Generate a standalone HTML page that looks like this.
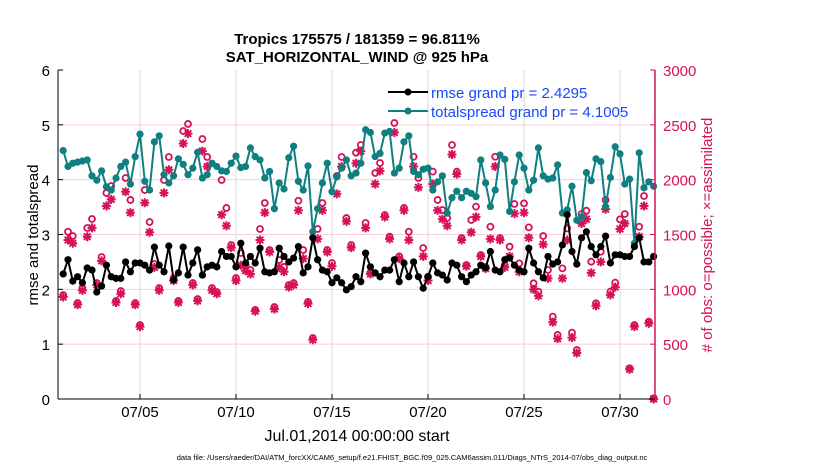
<!DOCTYPE html>
<html><head><meta charset="utf-8"><style>
html,body{margin:0;padding:0;background:#fff;}
svg{display:block;font-family:"Liberation Sans",Arial,sans-serif;}
</style></head><body>
<svg id="chart" width="830" height="470" viewBox="0 0 830 470">
<text x="357" y="44" text-anchor="middle" font-size="15" font-weight="bold">Tropics 175575 / 181359 = 96.811%</text>
<text x="357" y="62" text-anchor="middle" font-size="15" font-weight="bold">SAT_HORIZONTAL_WIND @ 925 hPa</text>
<g id="grid"></g>
<g id="marks"></g>
<g id="axes"></g>
<text transform="translate(38,235) rotate(-90)" text-anchor="middle" font-size="15">rmse and totalspread</text>
<text transform="translate(712,235) rotate(-90)" text-anchor="middle" font-size="15" fill="#d6115a"># of obs: o=possible; ×=assimilated</text>
<text x="357" y="441" text-anchor="middle" font-size="16">Jul.01,2014 00:00:00 start</text>
<text x="412" y="460" text-anchor="middle" font-size="7.5">data file: /Users/raeder/DAI/ATM_forcXX/CAM6_setup/f.e21.FHIST_BGC.f09_025.CAM6assim.011/Diags_NTrS_2014-07/obs_diag_output.nc</text>
<g>
<line x1="388" y1="92" x2="428" y2="92" stroke="#000" stroke-width="2"/>
<circle cx="408" cy="92" r="3.5" fill="#000"/>
<text x="431" y="98" font-size="15" fill="#1747ff">rmse grand pr = 2.4295</text>
<line x1="388" y1="111" x2="428" y2="111" stroke="#0f7f80" stroke-width="2"/>
<circle cx="408" cy="111" r="3.5" fill="#0f7f80"/>
<text x="431" y="117" font-size="15" fill="#1747ff">totalspread grand pr = 4.1005</text>
</g>
</svg>
<script>
const rmse=[2.28,2.54,2.15,2.23,2.12,2.39,2.35,1.95,2.06,2.44,2.23,2.20,2.20,2.50,2.32,2.48,2.48,2.44,2.35,2.77,2.44,2.32,2.79,2.17,2.30,2.77,2.26,2.48,2.72,2.26,2.41,2.44,
2.41,2.69,2.60,2.60,2.41,2.84,2.48,2.60,2.48,2.75,2.32,2.30,2.32,2.75,2.60,2.50,2.57,2.78,2.30,2.41,2.94,2.54,2.35,2.32,2.12,2.21,2.12,1.99,2.05,2.23,2.14,
2.66,2.41,2.30,2.23,2.35,2.35,2.54,2.14,2.48,2.23,2.50,2.23,2.02,2.23,2.48,2.30,2.26,2.17,2.48,2.44,2.23,2.14,2.26,2.32,2.44,2.39,2.69,2.35,2.32,2.54,2.57,
2.44,2.35,2.32,2.75,2.48,2.32,2.21,2.60,2.46,2.50,2.81,3.36,2.69,2.46,2.94,3.05,2.78,2.63,2.78,2.97,2.48,2.63,2.63,2.60,2.60,2.78,2.94,2.50,2.50,2.60];
const spread=[4.53,4.24,4.30,4.32,4.34,4.36,4.07,3.99,4.16,3.87,3.81,4.03,4.24,4.32,3.92,4.42,4.83,3.97,3.81,4.69,4.80,4.09,3.94,4.07,4.38,4.28,4.09,4.21,4.50,4.03,4.09,4.30,
4.24,4.16,4.15,4.30,4.43,4.22,4.24,4.58,4.42,4.36,4.03,4.15,3.47,3.94,3.83,4.40,4.61,3.97,3.81,4.25,3.05,3.47,3.94,4.30,3.78,4.05,4.21,4.36,4.07,4.12,4.30,
4.91,4.86,4.42,4.48,4.85,4.88,4.12,4.21,4.69,4.80,4.15,4.09,4.19,4.21,3.81,3.96,4.07,3.39,3.67,3.79,3.67,3.79,3.75,3.69,4.36,3.94,3.51,3.81,4.45,4.37,3.42,
3.96,4.45,4.21,3.81,3.99,4.58,4.07,4.01,4.03,4.27,3.39,3.45,3.88,3.26,3.32,4.13,3.98,4.38,4.33,3.51,4.04,4.60,4.47,3.92,4.01,2.84,4.49,3.85,3.96,3.88];
const possible=[948,1525,1486,875,1012,1559,1641,1058,1295,1878,1942,894,985,2015,1815,875,675,1906,1614,1231,1012,1997,2207,1103,894,2444,2508,1058,912,2371,2207,1012,
976,1997,1742,1404,1103,1331,1222,1176,812,1550,1787,1359,839,1267,1204,1039,1058,1808,1359,885,556,1550,1787,1359,1240,2033,2207,1650,1404,2246,2316,
1605,1149,2061,2152,1678,1480,2517,1300,1742,1525,2209,2015,1377,1115,2073,1815,1723,1650,2316,2073,1468,1222,1632,1754,1313,1204,1571,2209,1468,1222,1389,
1778,1237,1784,1565,1055,979,1486,1176,751,584,1191,1556,605,447,1687,1717,1252,873,1343,1815,979,1061,1638,1687,280,675,1571,1851,705,6];
const assimilated=[930,1450,1420,860,990,1480,1560,1040,1260,1760,1820,880,960,1890,1700,860,660,1790,1520,1200,990,1880,2090,1080,880,2330,2420,1040,895,2260,2120,990,
960,1680,1580,1380,1080,1220,1170,1140,800,1450,1700,1340,820,1200,1160,1020,1040,1720,1280,870,540,1460,1720,1340,1210,1870,2120,1620,1380,2150,2260,
1560,1140,1960,2080,1660,1460,2430,1280,1720,1450,2120,1930,1300,1080,1960,1720,1640,1580,2230,2050,1450,1210,1520,1660,1300,1190,1460,2120,1450,1200,1300,
1690,1160,1700,1470,1000,940,1410,1100,700,550,1100,1450,560,420,1600,1640,1150,850,1250,1730,950,1020,1550,1600,270,660,1480,1760,690,0];
const xTickDays=[4,9,14,19,24,29];
const xTickLabels=["07/05","07/10","07/15","07/20","07/25","07/30"];
const leftTicks=[0,1,2,3,4,5,6];
const rightTicks=[0,500,1000,1500,2000,2500,3000];

const NS="http://www.w3.org/2000/svg";
const L=58,R=655,T=70,B=399;
const xDay=d=>63.2+d*19.2;
const xIdx=i=>xDay(i*0.25);
const yL=v=>B-(v/6)*(B-T);
const yR=o=>B-(o/3000)*(B-T);
function mk(tag,attrs,parent){const e=document.createElementNS(NS,tag);for(const k in attrs)e.setAttribute(k,attrs[k]);parent.appendChild(e);return e;}
const grid=document.getElementById('grid'),marks=document.getElementById('marks'),axes=document.getElementById('axes');
const CR="#d6115a",TE="#0f7f80";

xTickDays.forEach((d,i)=>{
  const g=mk('line',{x1:xDay(d),x2:xDay(d),y1:T,y2:B,stroke:"#d8d8d8","stroke-width":1},grid);
  
  
  const t=mk('line',{x1:xDay(d),x2:xDay(d),y1:B,y2:B-5,stroke:"#000"},axes);
  
  
  const tx=mk('text',{x:xDay(d),y:B+18,"text-anchor":"middle","font-size":15},axes);
  tx.textContent=xTickLabels[i];
  
  
});
rightTicks.forEach(o=>{
  if(o>0&&o<3000){const g=mk('line',{x1:L,x2:R,y1:yR(o),y2:yR(o),stroke:"#f6cfdc","stroke-width":1},grid);
  
  }
  const t=mk('line',{x1:R,x2:R-5,y1:yR(o),y2:yR(o),stroke:CR},axes);
  
  
  const tx=mk('text',{x:R+8,y:yR(o)+6,"font-size":15,fill:CR},axes);
  tx.textContent=o;
  
  
});
leftTicks.forEach(v=>{
  const t=mk('line',{x1:L,x2:L+5,y1:yL(v),y2:yL(v),stroke:"#000"},axes);
  
  
  const tx=mk('text',{x:L-8,y:yL(v)+6,"text-anchor":"end","font-size":15},axes);
  tx.textContent=v;
  
  
});
mk('line',{x1:L,x2:L,y1:T,y2:B,stroke:"#000"},axes);
mk('line',{x1:L,x2:R,y1:B,y2:B,stroke:"#000"},axes);
mk('line',{x1:R,x2:R,y1:T,y2:B,stroke:CR,"stroke-width":1.5},axes);

function series(vals,color,name){
  const pl=mk('polyline',{points:vals.map((v,i)=>xIdx(i)+","+yL(v)).join(" "),fill:"none",stroke:color,"stroke-width":2,"stroke-linejoin":"round"},marks);
  
  
  vals.forEach((v,i)=>{
    const c=mk('circle',{cx:xIdx(i),cy:yL(v),r:3.6,fill:color},marks);
    
    
  });
}
possible.forEach((o,i)=>{
  const c=mk('circle',{cx:xIdx(i),cy:yR(o),r:3,fill:"none",stroke:CR,"stroke-width":1.8},marks);
  
  
});
assimilated.forEach((o,i)=>{
  const x=xIdx(i),y=yR(o);
  const p=mk('path',{d:`M${x-4.5},${y}H${x+4.5}M${x},${y-4.5}V${y+4.5}M${x-3.3},${y-3.3}L${x+3.3},${y+3.3}M${x-3.3},${y+3.3}L${x+3.3},${y-3.3}`,stroke:CR,"stroke-width":2},marks);
  
  
});
series(spread,TE,'totalspread');
series(rmse,"#000",'rmse');
</script>
</body></html>
